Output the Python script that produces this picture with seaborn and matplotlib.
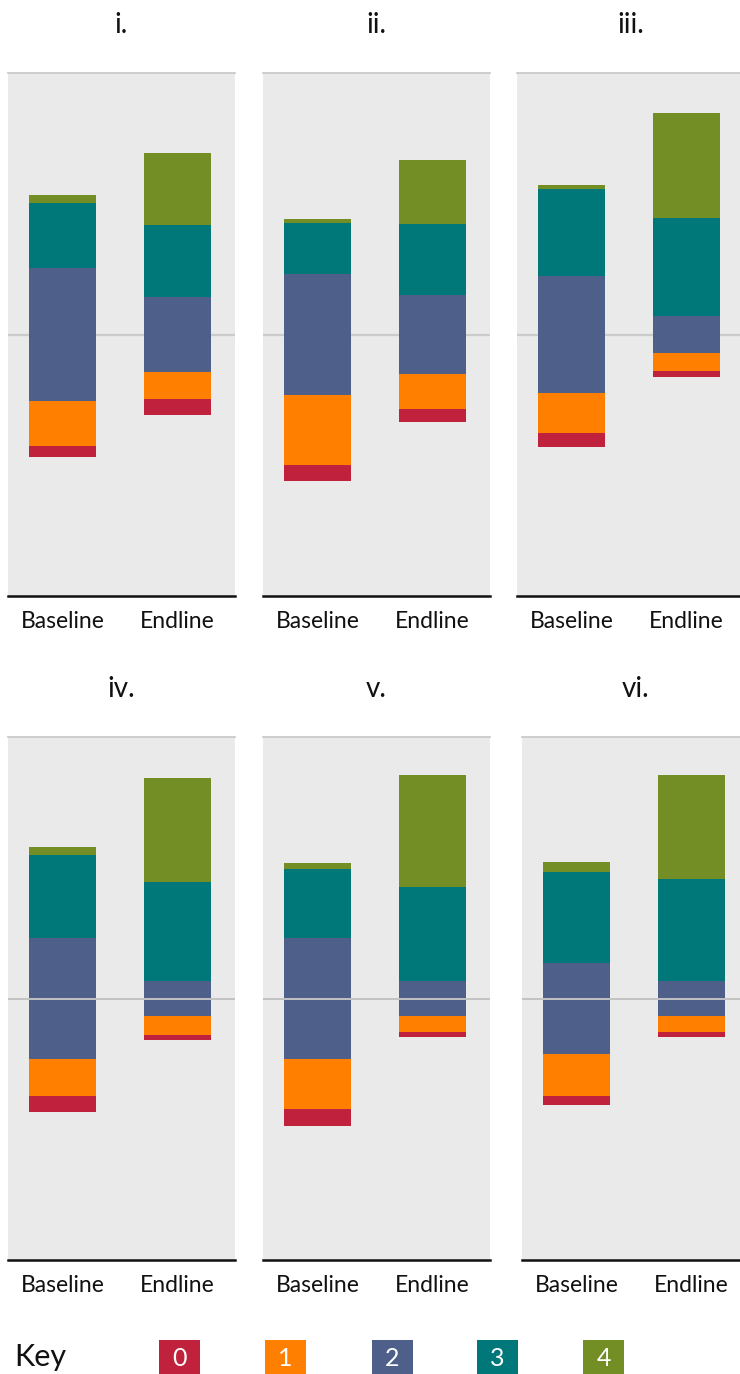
import matplotlib
matplotlib.use("Agg")
import matplotlib.pyplot as plt
import seaborn as sns
import pandas as pd
from matplotlib.patches import Rectangle

sns.set_theme(style="white")
plt.rcParams["font.family"] = ["Lato", "DejaVu Sans"]

# ---------------- data (percent of respondents per score) ----------------
waves = ["Baseline", "Endline"]
panel_titles = ["i.", "ii.", "iii.", "iv.", "v.", "vi."]
score_labels = ["0", "1", "2", "3", "4"]

score0 = [[4.2, 6.0], [6.1, 5.0], [5.0, 2.3], [6.1, 1.9], [6.5, 1.9], [3.1, 1.9]]
score1 = [[17.2, 10.3], [26.8, 13.4], [15.3, 6.9], [14.1, 7.3], [19.1, 6.1], [16.4, 6.1]]
score2 = [[51.2, 28.8], [45.9, 30.0], [45.1, 13.8], [46.3, 13.4], [46.3, 13.4], [34.8, 13.4]]
score3 = [[24.5, 27.5], [19.5, 27.4], [32.9, 37.5], [31.7, 37.9], [26.4, 35.9], [34.8, 39.0]]
score4 = [[3.1, 27.4], [1.9, 24.5], [1.9, 40.2], [3.1, 39.8], [2.3, 42.8], [3.8, 39.8]]
no_response = [[0, 0], [0, 0], [0, 0], [0, 0], [0, 0], [7.3, 0]]

scores = [score0, score1, score2, score3, score4]
palette = ["#c0213c", "#ff7f00", "#4e5f8a", "#00787a", "#738e24"]

# ---------------- layout ----------------
W, H = 740, 1374
fig = plt.figure(figsize=(W / 100, H / 100), dpi=100)

panel_left = [8, 263, 517, 8, 263, 522]
panel_top = [73, 73, 73, 737, 737, 737]
pw, ph = 227, 523

for k, title in enumerate(panel_titles):
    ax = fig.add_axes([panel_left[k] / W, 1 - (panel_top[k] + ph) / H, pw / W, ph / H])
    ax.set_facecolor("#eaeaea")
    top_row = k < 3
    ax.axhline(0, color="#cbcbcb" if top_row else "#c2c2c2", lw=1.6 if top_row else 1.4,
               zorder=0.5 if top_row else 5)

    # diverging offset: the neutral score (2) is centred on the midline
    base = [-(score0[k][j] + score1[k][j] + (score2[k][j] + no_response[k][j]) / 2)
            for j in range(2)]
    cum = list(base)
    for s in range(5):
        vals = scores[s][k]
        df = pd.DataFrame({"wave": waves, "pct": vals})
        sns.barplot(data=df, x="wave", y="pct", order=waves, bottom=list(cum),
                    width=0.583, color=palette[s], saturation=1, errorbar=None,
                    linewidth=0, zorder=2, ax=ax)
        cum = [cum[j] + vals[j] for j in range(2)]

    ax.set_xlim(-0.474, 1.5)
    ax.set_ylim(-100, 100)
    ax.set_xlabel("")
    ax.set_ylabel("")
    ax.set_yticks([])
    ax.tick_params(axis="x", length=0, pad=11, labelsize=16.5, labelcolor="#111111")
    for side in ("left", "right"):
        ax.spines[side].set_visible(False)
    ax.spines["top"].set_color("#c6c6c6")
    ax.spines["top"].set_linewidth(1.2)
    ax.spines["bottom"].set_color("#111111")
    ax.spines["bottom"].set_linewidth(1.8)
    ax.set_title(title, fontsize=20, pad=29, color="#111111")

# ---------------- key ----------------
kax = fig.add_axes([0, 0, 1, 60 / H])
kax.set_xlim(0, W)
kax.set_ylim(60, 0)
kax.axis("off")
kax.text(14, 43, "Key", fontsize=22, va="center", ha="left", color="#111111")
key_left = [159, 265, 372, 477, 583]
for i, lab in enumerate(score_labels):
    kax.add_patch(Rectangle((key_left[i], 26), 41, 40, color=palette[i], lw=0))
    kax.text(key_left[i] + 20.5, 44, lab, fontsize=18, color="white", ha="center",
             va="center")

fig.savefig("out.png", dpi=100)
